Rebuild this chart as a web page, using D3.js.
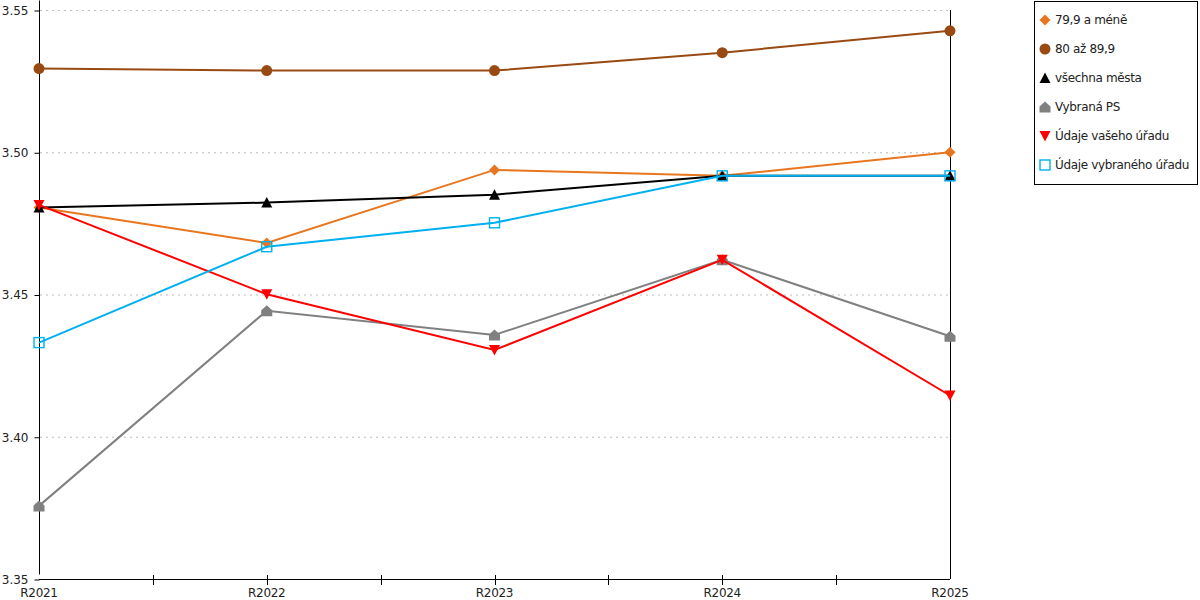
<html>
<script src='https://d3js.org/d3.v7.min.js'></script>
<style>
body { margin: 0; background: #fff; }
text { font-family: "DejaVu Sans", Verdana, sans-serif; font-size: 12px; fill: #222; }
</style>
<body onload='init()'>
<svg width=1200 height=600></svg>
<script>
const years = ["R2021", "R2022", "R2023", "R2024", "R2025"];
const yTicks = [3.35, 3.40, 3.45, 3.50, 3.55];

const seriesNames = ["79,9 a méně", "80 až 89,9", "všechna města", "Vybraná PS", "Údaje vašeho úřadu", "Údaje vybraného úřadu"];
const small = [3.4806, 3.4681, 3.4938, 3.4917, 3.5000];
const mid = [3.5294, 3.5287, 3.5287, 3.5350, 3.5427];
const allCities = [3.4806, 3.4823, 3.4851, 3.4917, 3.4917];
const selectedPS = [3.3757, 3.4443, 3.4358, 3.4622, 3.4353];
const yourOffice = [3.4815, 3.4501, 3.4305, 3.4622, 3.4145];
const selectedOffice = [3.4331, 3.4668, 3.4752, 3.4917, 3.4917];

function init() {
    const svg = d3.select("svg");
    const colors = ["#e8761e", "#994a12", "#000000", "#808080", "#ff0000", "#00b0f0"];
    const shapes = ["diamond", "circle", "triangle", "house", "down", "square"];
    const values = [small, mid, allCities, selectedPS, yourOffice, selectedOffice];

    const x = d3.scalePoint().domain(years).range([39, 950]);
    const y = d3.scaleLinear().domain([3.35, 3.55]).range([579, 10]);

    // grid
    svg.append("g").selectAll("line")
        .data(yTicks.slice(1))
        .enter().append("line")
        .attr("x1", 40).attr("x2", 950)
        .attr("y1", d => y(d) + 0.5).attr("y2", d => y(d) + 0.5)
        .attr("stroke", "#bbb").attr("stroke-dasharray", "2,4");

    // y axis
    const yAxis = d3.axisLeft(y).tickValues(yTicks).tickFormat(d3.format(".2f")).tickSize(5).tickPadding(6);
    const ga = svg.append("g").attr("transform", "translate(39.5,0.5)").call(yAxis);
    ga.select(".domain").attr("d", "M0,0V574");
    ga.selectAll("text").attr("fill", "#222").style("font-size", "12px").style("font-family", "DejaVu Sans");

    // right border line
    svg.append("line").attr("x1", 950.5).attr("x2", 950.5).attr("y1", 10).attr("y2", 579).attr("stroke", "#000");

    // x axis
    svg.append("line").attr("x1", 39).attr("x2", 950).attr("y1", 579.5).attr("y2", 579.5).attr("stroke", "#000");
    const minorX = [];
    for (let i = 0; i < years.length - 1; i++) {
        minorX.push((x(years[i]) + x(years[i + 1])) / 2);
        if (i > 0) minorX.push(x(years[i]));
    }
    svg.append("g").selectAll("line").data(minorX).enter().append("line")
        .attr("x1", d => Math.round(d) + 0.5).attr("x2", d => Math.round(d) + 0.5)
        .attr("y1", 575).attr("y2", 585).attr("stroke", "#000");
    svg.append("g").selectAll("text").data(years).enter().append("text")
        .attr("x", d => x(d)).attr("y", 597)
        .attr("text-anchor", "middle").attr("letter-spacing", "-0.3").text(d => d);

    const line = d3.line().x((d, i) => x(years[i])).y(d => y(d));

    function marker(g, shape, color, cx, cy) {
        const s = 5.5;
        let path;
        if (shape === "diamond") path = `M${cx},${cy - s}L${cx + s},${cy}L${cx},${cy + s}L${cx - s},${cy}Z`;
        else if (shape === "triangle") path = `M${cx},${cy - s}L${cx + s},${cy + s - 0.5}L${cx - s},${cy + s - 0.5}Z`;
        else if (shape === "down") path = `M${cx - s},${cy - s + 0.5}L${cx + s},${cy - s + 0.5}L${cx},${cy + s}Z`;
        else if (shape === "house") path = `M${cx},${cy - s}L${cx + s},${cy - 0.5}L${cx + s},${cy + s}L${cx - s},${cy + s}L${cx - s},${cy - 0.5}Z`;
        if (shape === "circle") {
            g.append("circle").attr("cx", cx).attr("cy", cy).attr("r", 5.5).attr("fill", color);
        } else if (shape === "square") {
            g.append("rect").attr("x", cx - 5).attr("y", cy - 5).attr("width", 10).attr("height", 10)
                .attr("fill", "none").attr("stroke", color).attr("stroke-width", 1.4);
        } else {
            g.append("path").attr("d", path).attr("fill", color);
        }
    }

    values.forEach((vals, k) => {
        const g = svg.append("g");
        g.append("path").datum(vals).attr("d", line)
            .attr("fill", "none").attr("stroke", colors[k]).attr("stroke-width", 2);
        vals.forEach((v, i) => marker(g, shapes[k], colors[k], x(years[i]), y(v)));
    });

    // legend
    const lg = svg.append("g");
    lg.append("rect").attr("x", 1034.5).attr("y", 1.5).attr("width", 163).attr("height", 183)
        .attr("fill", "#fff").attr("stroke", "#000");
    seriesNames.forEach((name, k) => {
        const cy = 20 + k * 29;
        marker(lg, shapes[k], colors[k], 1045, cy);
        lg.append("text").attr("x", 1055).attr("y", cy + 4)
            .attr("letter-spacing", "-0.35").text(name);
    });
}
</script>
</body>
</html>
